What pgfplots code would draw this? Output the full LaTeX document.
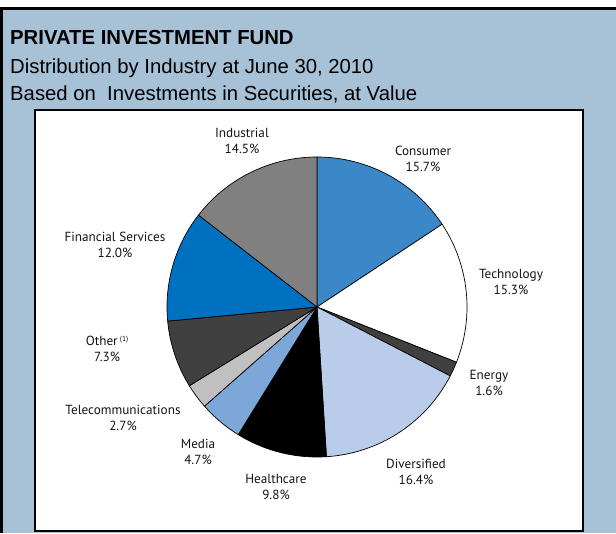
\documentclass[border=0pt]{standalone}
\usepackage{pgfplots}
\pgfplotsset{compat=1.18}
\usepackage{pgfplotstable}
\usepackage{fontspec}
\setmainfont{Liberation Sans}
\newfontfamily\labfont{PT Sans}
\definecolor{bgblue}{RGB}{167,193,214}
\definecolor{consumer}{RGB}{59,136,200}
\definecolor{finserv}{RGB}{0,112,192}
\definecolor{industrial}{RGB}{128,128,128}
\definecolor{darkg}{RGB}{64,64,64}
\definecolor{telecom}{RGB}{192,192,192}
\definecolor{media}{RGB}{125,167,217}
\definecolor{diversified}{RGB}{185,205,235}
% start (cumulative %), share (%), colour
\newcommand{\slice}[3]{%
  \pgfmathsetmacro\angA{90-3.6*(#1+#2)}%
  \pgfmathsetmacro\angB{90-3.6*(#1)}%
  \addplot[fill=#3, draw=black, line width=0.7pt, domain=\angA:\angB, samples=60, variable=\t]
    ({317+150*cos(\t)},{226+150*sin(\t)}) -- (axis cs:317,226) -- cycle;
}
\begin{document}
\begin{tikzpicture}
\begin{axis}[scale only axis, width=616pt, height=533pt,
  xmin=0, xmax=616, ymin=0, ymax=533, hide axis, clip=false]
% background
\fill[bgblue] (axis cs:0,0) rectangle (axis cs:616,525);
\draw[black, line width=3.4pt] (axis cs:1.7,0) -- (axis cs:1.7,524.3) -- (axis cs:616,524.3);
% titles
\node[anchor=base west, inner sep=0pt, font=\fontsize{20.3}{24}\selectfont\bfseries] at (axis cs:10,488) {PRIVATE INVESTMENT FUND};
\node[anchor=base west, inner sep=0pt, font=\fontsize{20.3}{24}\selectfont] at (axis cs:10,459) {Distribution by Industry at June 30, 2010};
\node[anchor=base west, inner sep=0pt, font=\fontsize{20.3}{24}\selectfont] at (axis cs:10,432) {Based on\ \ Investments in Securities, at Value};
% white panel
\filldraw[fill=white, draw=black, line width=1.6pt] (axis cs:35,2) rectangle (axis cs:583,423);
% pie (clockwise from top)
\slice{0}{15.7}{consumer}
\slice{15.7}{15.3}{white}
\slice{31.0}{1.6}{darkg}
\slice{32.6}{16.4}{diversified}
\slice{49.0}{9.8}{black}
\slice{58.8}{4.7}{media}
\slice{63.5}{2.7}{telecom}
\slice{66.2}{7.3}{darkg}
\slice{73.5}{12.0}{finserv}
\slice{85.5}{14.5}{industrial}
% labels
\begin{scope}[every node/.style={align=center, inner sep=0pt, text=black!92, font=\labfont\fontsize{13.2}{16}\selectfont}]
\node at (axis cs:242,392) {Industrial\\14.5\%};
\node at (axis cs:423,374) {Consumer\\15.7\%};
\node at (axis cs:511,251.5) {Technology\\15.3\%};
\node at (axis cs:489,150) {Energy\\1.6\%};
\node at (axis cs:416,61.5) {Diversified\\16.4\%};
\node at (axis cs:276,46.5) {Healthcare\\9.8\%};
\node at (axis cs:198,81.5) {Media\\4.7\%};
\node at (axis cs:123,115) {Telecommunications\\2.7\%};
\node at (axis cs:107,184) {Other\,{\fontsize{7.5}{8}\selectfont\raisebox{4.5pt}{(1)}}\\7.3\%};
\node at (axis cs:115,288) {Financial Services\\12.0\%};
\end{scope}
\end{axis}
\pgfresetboundingbox
\path (0,0) rectangle (616pt,533pt);
\end{tikzpicture}
\end{document}
